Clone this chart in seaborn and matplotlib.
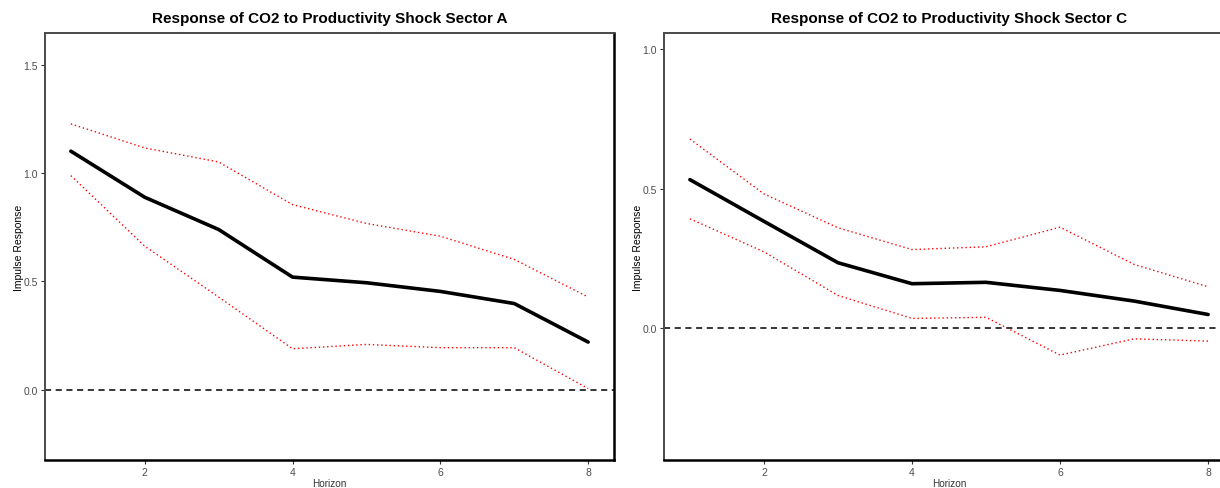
import numpy as np
import pandas as pd
import matplotlib
matplotlib.use("Agg")
import matplotlib.pyplot as plt
import seaborn as sns

horizon = [1, 2, 3, 4, 5, 6, 7, 8]

# Sector A
irf_a = [1.102, 0.889, 0.740, 0.520, 0.494, 0.454, 0.398, 0.220]
upper_a = [1.228, 1.117, 1.052, 0.855, 0.768, 0.709, 0.602, 0.428]
lower_a = [0.989, 0.663, 0.428, 0.189, 0.209, 0.194, 0.194, 0.005]

# Sector C
irf_c = [0.532, 0.383, 0.235, 0.160, 0.165, 0.136, 0.098, 0.050]
upper_c = [0.677, 0.481, 0.360, 0.282, 0.292, 0.362, 0.229, 0.149]
lower_c = [0.392, 0.274, 0.118, 0.036, 0.040, -0.095, -0.037, -0.045]

titles = ["Response of CO2 to Productivity Shock Sector A",
          "Response of CO2 to Productivity Shock Sector C"]
x_ticks = [2, 4, 6, 8]
y_ticks_a = [0.0, 0.5, 1.0, 1.5]
y_ticks_c = [0.0, 0.5, 1.0]

sns.set_theme(style="white")
plt.rcParams['font.family'] = ['Liberation Sans', 'DejaVu Sans']

fig = plt.figure(figsize=(12.2, 4.89), dpi=100)
W, H = 1220, 489
ax_a = fig.add_axes([45 / W, 1 - 461 / H, 569 / W, 427 / H])
ax_c = fig.add_axes([664 / W, 1 - 461 / H, 570 / W, 427 / H])

panels = [
    (ax_a, irf_a, upper_a, lower_a, titles[0], y_ticks_a, (-0.325, 1.648)),
    (ax_c, irf_c, upper_c, lower_c, titles[1], y_ticks_c, (-0.47, 1.056)),
]

for ax, irf, up, lo, title, yt, ylim in panels:
    df = pd.DataFrame({"Horizon": horizon, "irf": irf, "upper": up, "lower": lo})
    ax.axhline(0, color="black", lw=1.1, ls=(0, (4, 3)), zorder=1)
    sns.lineplot(data=df, x="Horizon", y="upper", ax=ax, color="red",
                 lw=1.0, ls=(0, (1, 2)), zorder=2)
    sns.lineplot(data=df, x="Horizon", y="lower", ax=ax, color="red",
                 lw=1.0, ls=(0, (1, 2)), zorder=2)
    sns.lineplot(data=df, x="Horizon", y="irf", ax=ax, color="black",
                 lw=2.6, zorder=3)
    ax.set_xlim(0.65, 8.35)
    ax.set_ylim(*ylim)
    ax.set_xticks(x_ticks)
    ax.set_xticklabels([str(t) for t in x_ticks])
    ax.set_yticks(yt)
    ax.set_yticklabels([f"{t:.1f}" for t in yt])
    ax.tick_params(axis="both", which="both", length=3, width=0.8,
                   color="#333333", labelsize=7.5, labelcolor="#4d4d4d",
                   pad=2, left=True, bottom=True)
    ax.set_xlabel("Horizon", fontsize=7.2, color="#333333", labelpad=0.5)
    ax.set_ylabel("Impulse Response", fontsize=7.5, color="black", labelpad=0)
    ax.set_title(title, fontsize=11, fontweight="bold", color="black", pad=8)
    ax.grid(False)
    for side in ["left", "top"]:
        ax.spines[side].set_color("#4a4a4a")
        ax.spines[side].set_linewidth(1.4)
    for side in ["right", "bottom"]:
        ax.spines[side].set_color("black")
        ax.spines[side].set_linewidth(1.8)

fig.savefig("out.png", dpi=100)
